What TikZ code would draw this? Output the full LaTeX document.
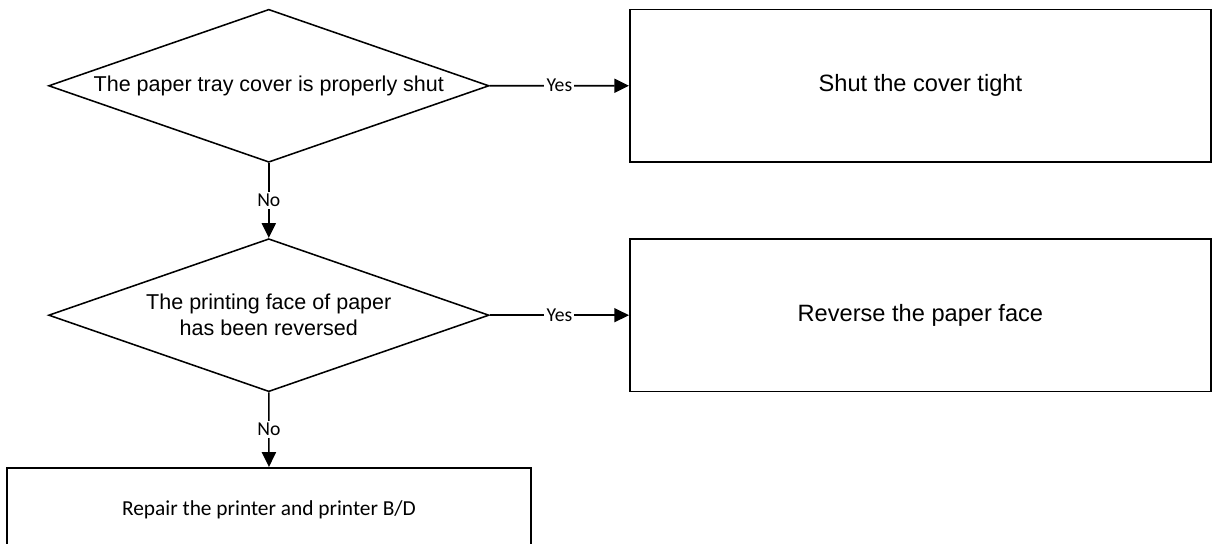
\documentclass[tikz,border=0pt]{standalone}
\usepackage{fontspec}
\setmainfont{Liberation Sans}
\newfontfamily\calibri{Carlito}
\usetikzlibrary{shapes.geometric}
\usetikzlibrary{arrows.meta}

\begin{document}
\begin{tikzpicture}[
    decision/.style={diamond, draw, line width=1.1pt, aspect=2.88, inner sep=0pt, minimum width=11.01cm, minimum height=3.825cm, align=center, font=\fontsize{15.3}{18.5}\selectfont},
    box/.style={rectangle, draw, line width=1.1pt, minimum width=14.53cm, minimum height=3.82cm, font=\fontsize{16.8}{20}\selectfont},
    arrow/.style={-{Triangle[length=10.5pt,width=10pt]}, line width=1.1pt},
    answer/.style={midway, fill=white, inner sep=1.5pt, font=\calibri\fontsize{14}{16}\selectfont}
]
    \useasboundingbox (0,0) rectangle (30.375,13.6);

    % Checks
    \node[decision] (cover) at (6.72,11.455) {The paper tray cover is properly shut};
    \node[decision] (face) at (6.72,5.72) {The printing face of paper\\has been reversed};

    % Actions
    \node[box] (shut) at (23.01,11.457) {Shut the cover tight};
    \node[box] (reverse) at (23.01,5.72) {Reverse the paper face};
    \node[box, minimum width=13.1cm, minimum height=2.08cm, font=\calibri\fontsize{15.2}{18}\selectfont] (repair) at (6.725,0.866) {Repair the printer and printer B/D};

    % Arrows
    \draw[arrow] (cover) -- node[answer] {Yes} (shut);
    \draw[arrow] (cover) -- node[answer] {No} (face);
    \draw[arrow] (face) -- node[answer] {Yes} (reverse);
    \draw[arrow] (face) -- node[answer] {No} (repair);
\end{tikzpicture}
\end{document}
